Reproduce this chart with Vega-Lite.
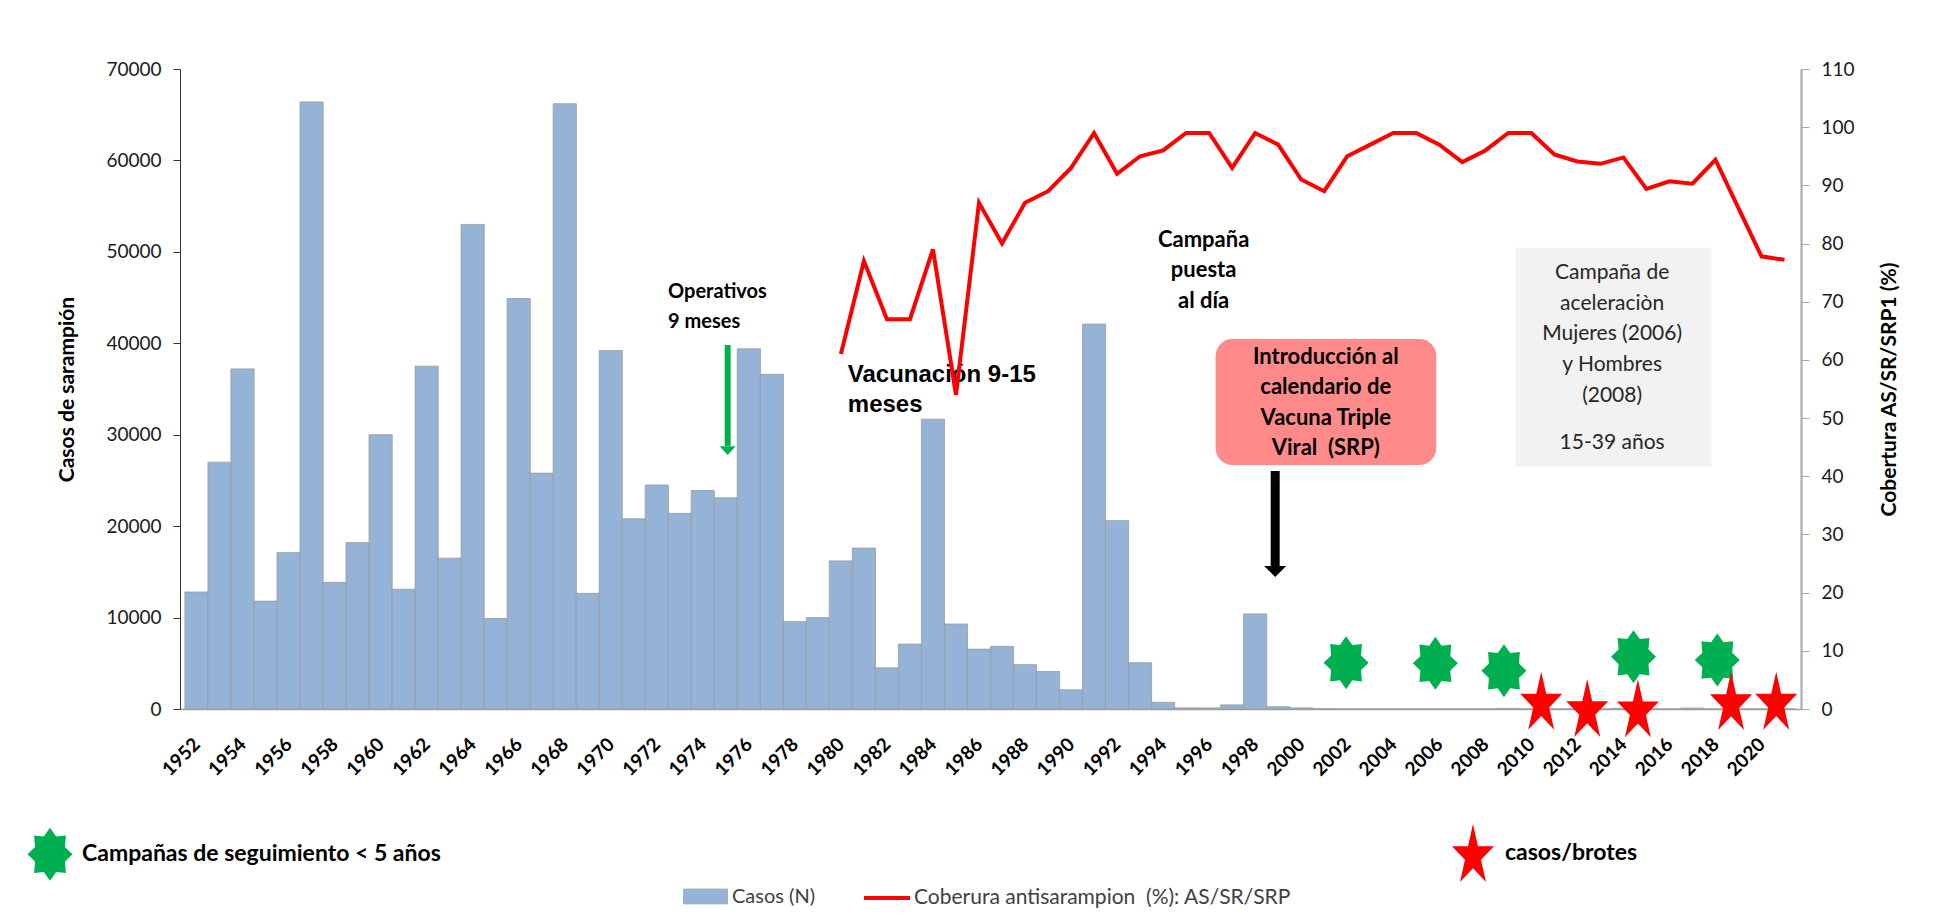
{
  "$schema": "https://vega.github.io/schema/vega-lite/v6.json",
  "width": 1621,
  "height": 640,
  "autosize": {"type": "none"},
  "padding": {"left": 180, "top": 69, "right": 143, "bottom": 209},
  "background": "white",
  "config": {"view": {"stroke": null}, "font": "Lato", "axis": {"grid": false}},
  "datasets": {
    "main": [
      {"year": 1952, "casos": 12800, "cob": null},
      {"year": 1953, "casos": 27000, "cob": null},
      {"year": 1954, "casos": 37200, "cob": null},
      {"year": 1955, "casos": 11800, "cob": null},
      {"year": 1956, "casos": 17100, "cob": null},
      {"year": 1957, "casos": 66400, "cob": null},
      {"year": 1958, "casos": 13850, "cob": null},
      {"year": 1959, "casos": 18200, "cob": null},
      {"year": 1960, "casos": 30000, "cob": null},
      {"year": 1961, "casos": 13100, "cob": null},
      {"year": 1962, "casos": 37500, "cob": null},
      {"year": 1963, "casos": 16500, "cob": null},
      {"year": 1964, "casos": 53000, "cob": null},
      {"year": 1965, "casos": 9900, "cob": null},
      {"year": 1966, "casos": 44900, "cob": null},
      {"year": 1967, "casos": 25800, "cob": null},
      {"year": 1968, "casos": 66200, "cob": null},
      {"year": 1969, "casos": 12650, "cob": null},
      {"year": 1970, "casos": 39200, "cob": null},
      {"year": 1971, "casos": 20800, "cob": null},
      {"year": 1972, "casos": 24500, "cob": null},
      {"year": 1973, "casos": 21400, "cob": null},
      {"year": 1974, "casos": 23900, "cob": null},
      {"year": 1975, "casos": 23100, "cob": null},
      {"year": 1976, "casos": 39400, "cob": null},
      {"year": 1977, "casos": 36600, "cob": null},
      {"year": 1978, "casos": 9550, "cob": null},
      {"year": 1979, "casos": 10000, "cob": null},
      {"year": 1980, "casos": 16200, "cob": 61},
      {"year": 1981, "casos": 17600, "cob": 77},
      {"year": 1982, "casos": 4500, "cob": 67},
      {"year": 1983, "casos": 7100, "cob": 67},
      {"year": 1984, "casos": 31700, "cob": 79},
      {"year": 1985, "casos": 9300, "cob": 54},
      {"year": 1986, "casos": 6550, "cob": 87},
      {"year": 1987, "casos": 6850, "cob": 80},
      {"year": 1988, "casos": 4850, "cob": 87},
      {"year": 1989, "casos": 4100, "cob": 89},
      {"year": 1990, "casos": 2100, "cob": 93},
      {"year": 1991, "casos": 42100, "cob": 99},
      {"year": 1992, "casos": 20600, "cob": 92},
      {"year": 1993, "casos": 5070, "cob": 95},
      {"year": 1994, "casos": 730, "cob": 96},
      {"year": 1995, "casos": 120, "cob": 99},
      {"year": 1996, "casos": 120, "cob": 99},
      {"year": 1997, "casos": 450, "cob": 93},
      {"year": 1998, "casos": 10400, "cob": 99},
      {"year": 1999, "casos": 250, "cob": 97},
      {"year": 2000, "casos": 120, "cob": 91},
      {"year": 2001, "casos": 40, "cob": 89},
      {"year": 2002, "casos": 0, "cob": 95},
      {"year": 2003, "casos": 0, "cob": 97},
      {"year": 2004, "casos": 0, "cob": 99},
      {"year": 2005, "casos": 0, "cob": 99},
      {"year": 2006, "casos": 0, "cob": 97},
      {"year": 2007, "casos": 0, "cob": 94},
      {"year": 2008, "casos": 0, "cob": 96},
      {"year": 2009, "casos": 60, "cob": 99},
      {"year": 2010, "casos": 0, "cob": 99},
      {"year": 2011, "casos": 0, "cob": 95.3},
      {"year": 2012, "casos": 0, "cob": 94.1},
      {"year": 2013, "casos": 0, "cob": 93.7},
      {"year": 2014, "casos": 80, "cob": 94.8},
      {"year": 2015, "casos": 0, "cob": 89.4},
      {"year": 2016, "casos": 0, "cob": 90.7},
      {"year": 2017, "casos": 100, "cob": 90.3},
      {"year": 2018, "casos": 0, "cob": 94.4},
      {"year": 2019, "casos": 0, "cob": 86.1},
      {"year": 2020, "casos": 0, "cob": 77.8},
      {"year": 2021, "casos": 0, "cob": 77.2}
    ],
    "markers": [
      {"x": 2001.95, "y": 5060, "tipo": "Campañas de seguimiento < 5 años"},
      {"x": 2005.83, "y": 5000, "tipo": "Campañas de seguimiento < 5 años"},
      {"x": 2008.81, "y": 4190, "tipo": "Campañas de seguimiento < 5 años"},
      {"x": 2014.44, "y": 5720, "tipo": "Campañas de seguimiento < 5 años"},
      {"x": 2018.08, "y": 5360, "tipo": "Campañas de seguimiento < 5 años"},
      {"x": 2010.43, "y": 910, "tipo": "casos/brotes"},
      {"x": 2012.43, "y": 110, "tipo": "casos/brotes"},
      {"x": 2014.63, "y": 80, "tipo": "casos/brotes"},
      {"x": 2018.68, "y": 870, "tipo": "casos/brotes"},
      {"x": 2020.64, "y": 910, "tipo": "casos/brotes"}
    ]
  },
  "layer": [
    {
      "layer": [
        {
          "data": {"name": "main"},
          "mark": {"type": "bar", "width": 23.157, "stroke": "#9A9A9A", "strokeWidth": 0.8},
          "encoding": {
            "x": {"field": "year", "type": "quantitative", "scale": {"domain": [1951.5, 2021.5], "nice": false, "zero": false},
              "axis": {"values": [1952,1954,1956,1958,1960,1962,1964,1966,1968,1970,1972,1974,1976,1978,1980,1982,1984,1986,1988,1990,1992,1994,1996,1998,2000,2002,2004,2006,2008,2010,2012,2014,2016,2018,2020],
                "format": "d", "title": null, "labelAngle": -45, "labelAlign": "right", "labelBaseline": "middle",
                "labelFont": "Lato", "labelFontWeight": "bold", "labelFontSize": 19, "labelColor": "#000000",
                "ticks": false, "tickSize": 0, "labelPadding": 32, "domainColor": "#A0A0A0", "domainWidth": 1.5,
                "labelOverlap": false, "labelFlush": false, "labelBound": false}},
            "y": {"field": "casos", "type": "quantitative", "scale": {"domain": [0, 70000], "nice": false},
              "axis": {"orient": "left", "values": [0,10000,20000,30000,40000,50000,60000,70000], "format": "d",
                "labelFont": "Lato", "labelFontSize": 19, "labelColor": "#1a1a1a", "tickSize": 7, "tickColor": "#333333",
                "domainColor": "#333333", "domainWidth": 1, "labelPadding": 12,
                "title": "Casos de sarampión", "titleFont": "Lato", "titleFontSize": 21, "titleFontWeight": "bold",
                "titleColor": "#000000", "titlePadding": 28}},
            "fill": {"datum": "Casos (N)", "type": "nominal", "scale": {"range": ["#95B3D7"]},
              "legend": {"orient": "none", "legendX": 503, "legendY": 805, "title": null,
                "symbolType": "M-1,-0.34L1,-0.34L1,0.34L-1,0.34Z", "symbolSize": 1936,
                "symbolStrokeColor": "#A6A6A6", "symbolStrokeWidth": 0.8,
                "labelFont": "Lato", "labelFontSize": 20, "labelColor": "#404040", "labelOffset": 4}}
          }
        },
        {
          "data": {"values": [{"x1": 2009.32, "x2": 2017.83, "y1": 50450, "y2": 26500}]},
          "mark": {"type": "rect", "fill": "#F2F2F2"},
          "encoding": {
            "x": {"field": "x1", "type": "quantitative", "scale": {"domain": [1951.5, 2021.5], "nice": false, "zero": false}},
            "x2": {"field": "x2"},
            "y": {"field": "y1", "type": "quantitative", "scale": {"domain": [0, 70000], "nice": false}},
            "y2": {"field": "y2"}
          }
        },
        {
          "data": {"values": [{"x1": 1996.28, "x2": 2005.87, "y1": 40470, "y2": 26690}]},
          "mark": {"type": "rect", "fill": "#FF8A8A", "cornerRadius": 17},
          "encoding": {
            "x": {"field": "x1", "type": "quantitative", "scale": {"domain": [1951.5, 2021.5], "nice": false, "zero": false}},
            "x2": {"field": "x2"},
            "y": {"field": "y1", "type": "quantitative", "scale": {"domain": [0, 70000], "nice": false}},
            "y2": {"field": "y2"}
          }
        },
        {
          "data": {"values": [
            {"x": 1995.76, "y": 51300, "t": "Campaña\npuesta\nal día"},
            {"x": 2001.07, "y": 38530, "t": "Introducción al\ncalendario de\nVacuna Triple\nViral \u00a0(SRP)"}
          ]},
          "mark": {"type": "text", "font": "Lato", "fontWeight": "bold", "fontSize": 22, "color": "#000000", "align": "center", "baseline": "middle", "lineBreak": "\n", "lineHeight": 30.5},
          "encoding": {
            "x": {"field": "x", "type": "quantitative", "scale": {"domain": [1951.5, 2021.5], "nice": false, "zero": false}},
            "y": {"field": "y", "type": "quantitative", "scale": {"domain": [0, 70000], "nice": false}},
            "text": {"field": "t"}
          }
        },
        {
          "data": {"values": [{"x": 1972.49, "y": 45640, "t": "Operativos\n9 meses"}]},
          "mark": {"type": "text", "font": "Lato", "fontWeight": "bold", "fontSize": 20, "color": "#000000", "align": "left", "baseline": "middle", "lineBreak": "\n", "lineHeight": 30},
          "encoding": {
            "x": {"field": "x", "type": "quantitative", "scale": {"domain": [1951.5, 2021.5], "nice": false, "zero": false}},
            "y": {"field": "y", "type": "quantitative", "scale": {"domain": [0, 70000], "nice": false}},
            "text": {"field": "t"}
          }
        },
        {
          "data": {"values": [{"x": 1980.3, "y": 36530, "t": "Vacunación 9-15\nmeses"}]},
          "mark": {"type": "text", "font": "Liberation Sans", "fontWeight": "bold", "fontSize": 24, "color": "#000000", "align": "left", "baseline": "middle", "lineBreak": "\n", "lineHeight": 30},
          "encoding": {
            "x": {"field": "x", "type": "quantitative", "scale": {"domain": [1951.5, 2021.5], "nice": false, "zero": false}},
            "y": {"field": "y", "type": "quantitative", "scale": {"domain": [0, 70000], "nice": false}},
            "text": {"field": "t"}
          }
        },
        {
          "data": {"values": [
            {"x": 2013.51, "y": 47690, "t": "Campaña de\naceleraciòn\nMujeres (2006)\ny Hombres\n(2008)"},
            {"x": 2013.51, "y": 29090, "t": "15-39 años"}
          ]},
          "mark": {"type": "text", "font": "Lato", "fontSize": 21, "color": "#262626", "align": "center", "baseline": "middle", "lineBreak": "\n", "lineHeight": 30.75},
          "encoding": {
            "x": {"field": "x", "type": "quantitative", "scale": {"domain": [1951.5, 2021.5], "nice": false, "zero": false}},
            "y": {"field": "y", "type": "quantitative", "scale": {"domain": [0, 70000], "nice": false}},
            "text": {"field": "t"}
          }
        },
        {
          "data": {"values": [{"x": 1975.08, "y": 39810, "y2": 28770}]},
          "mark": {"type": "rule", "color": "#00B050", "strokeWidth": 6},
          "encoding": {
            "x": {"field": "x", "type": "quantitative", "scale": {"domain": [1951.5, 2021.5], "nice": false, "zero": false}},
            "y": {"field": "y", "type": "quantitative", "scale": {"domain": [0, 70000], "nice": false}},
            "y2": {"field": "y2"}
          }
        },
        {
          "data": {"values": [{"x": 1975.08, "y": 28270}]},
          "mark": {"type": "point", "filled": true, "opacity": 1, "color": "#00B050", "shape": "M-1,-0.55L1,-0.55L0,0.55Z", "size": 256, "strokeWidth": 0},
          "encoding": {
            "x": {"field": "x", "type": "quantitative", "scale": {"domain": [1951.5, 2021.5], "nice": false, "zero": false}},
            "y": {"field": "y", "type": "quantitative", "scale": {"domain": [0, 70000], "nice": false}}
          }
        },
        {
          "data": {"values": [{"x": 1998.87, "y": 26030, "y2": 15640}]},
          "mark": {"type": "rule", "color": "#000000", "strokeWidth": 9},
          "encoding": {
            "x": {"field": "x", "type": "quantitative", "scale": {"domain": [1951.5, 2021.5], "nice": false, "zero": false}},
            "y": {"field": "y", "type": "quantitative", "scale": {"domain": [0, 70000], "nice": false}},
            "y2": {"field": "y2"}
          }
        },
        {
          "data": {"values": [{"x": 1998.87, "y": 15040}]},
          "mark": {"type": "point", "filled": true, "opacity": 1, "color": "#000000", "shape": "M-1,-0.5L1,-0.5L0,0.5Z", "size": 484, "strokeWidth": 0},
          "encoding": {
            "x": {"field": "x", "type": "quantitative", "scale": {"domain": [1951.5, 2021.5], "nice": false, "zero": false}},
            "y": {"field": "y", "type": "quantitative", "scale": {"domain": [0, 70000], "nice": false}}
          }
        },
        {
          "data": {"name": "markers"},
          "mark": {"type": "point", "filled": true, "opacity": 1, "size": 3364, "strokeWidth": 0},
          "encoding": {
            "x": {"field": "x", "type": "quantitative", "scale": {"domain": [1951.5, 2021.5], "nice": false, "zero": false}},
            "y": {"field": "y", "type": "quantitative", "scale": {"domain": [0, 70000], "nice": false}},
            "color": {"field": "tipo", "type": "nominal",
              "scale": {"domain": ["Campañas de seguimiento < 5 años", "casos/brotes"], "range": ["#00B050", "#FF0000"]},
              "legend": {"orient": "none", "legendX": -159, "legendY": 755, "direction": "horizontal", "columns": 2, "columnPadding": 1003,
                "title": null, "symbolSize": 3364, "symbolStrokeWidth": 0, "symbolOpacity": 1,
                "labelFont": "Lato", "labelFontWeight": "bold", "labelFontSize": 23, "labelColor": "#000000", "labelOffset": 3, "labelLimit": 0}},
            "shape": {"field": "tipo", "type": "nominal",
              "scale": {"domain": ["Campañas de seguimiento < 5 años", "casos/brotes"],
                "range": ["M0,-0.914L0.214,-0.608L0.549,-0.646L0.516,-0.252L0.776,0L0.516,0.252L0.549,0.646L0.214,0.608L0,0.914L-0.214,0.608L-0.549,0.646L-0.516,0.252L-0.776,0L-0.516,-0.252L-0.549,-0.646L-0.214,-0.608Z",
                          "M0,-1L0.171,-0.236L0.724,-0.236L0.276,0.236L0.447,1L0,0.528L-0.447,1L-0.276,0.236L-0.724,-0.236L-0.171,-0.236Z"]},
              "legend": {"orient": "none", "legendX": -159, "legendY": 755, "direction": "horizontal", "columns": 2, "columnPadding": 1003,
                "title": null, "symbolSize": 3364, "symbolStrokeWidth": 0, "symbolOpacity": 1,
                "labelFont": "Lato", "labelFontWeight": "bold", "labelFontSize": 23, "labelColor": "#000000", "labelOffset": 3, "labelLimit": 0}}
          }
        }
      ]
    },
    {
      "data": {"name": "main"},
      "mark": {"type": "line", "strokeWidth": 4},
      "encoding": {
        "x": {"field": "year", "type": "quantitative", "scale": {"domain": [1951.5, 2021.5], "nice": false, "zero": false}},
        "y": {"field": "cob", "type": "quantitative", "scale": {"domain": [0, 110], "nice": false},
          "axis": {"orient": "right", "values": [0,10,20,30,40,50,60,70,80,90,100,110],
            "labelFont": "Lato", "labelFontSize": 19, "labelColor": "#1a1a1a", "tickSize": 8, "tickColor": "#A6A6A6",
            "domainColor": "#A6A6A6", "domainWidth": 2, "labelPadding": 12,
            "title": "Cobertura AS/SR/SRP1 (%)", "titleFont": "Lato", "titleFontSize": 21, "titleFontWeight": "bold",
            "titleColor": "#000000", "titleAngle": 270, "titleBaseline": "top", "titlePadding": 24}},
        "stroke": {"datum": "Coberura antisarampion \u00a0(%): AS/SR/SRP", "type": "nominal", "scale": {"range": ["#FF0000"]},
          "legend": {"orient": "none", "legendX": 682, "legendY": 804, "title": null,
            "symbolType": "stroke", "symbolSize": 2116, "symbolStrokeWidth": 4,
            "labelFont": "Lato", "labelFontSize": 21, "labelColor": "#404040", "labelOffset": 2, "labelLimit": 0}}
      }
    }
  ],
  "resolve": {"scale": {"y": "independent"}}
}
